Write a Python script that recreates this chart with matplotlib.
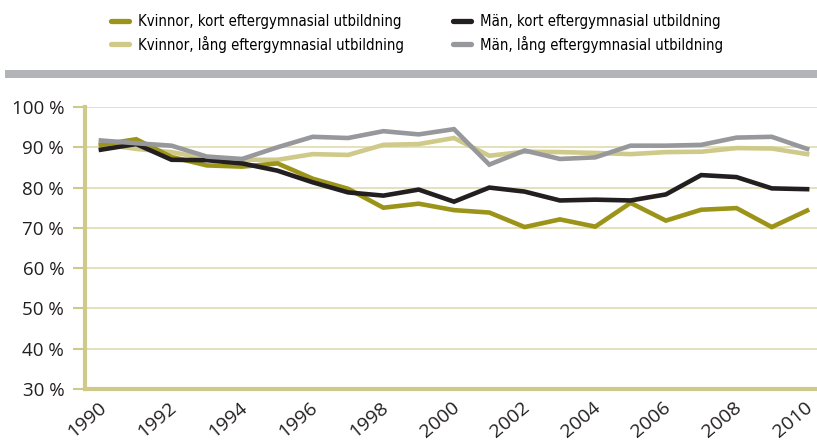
import matplotlib
matplotlib.use("Agg")
import matplotlib.pyplot as plt
import matplotlib.transforms as mtransforms
from matplotlib.patches import Rectangle
from matplotlib.lines import Line2D

years = list(range(1990, 2011))

# andel i procent
kvinnor_kort = [90.6, 92.0, 87.6, 85.5, 85.2, 86.0, 82.2, 79.7, 75.0, 76.0, 74.4,
                73.8, 70.2, 72.1, 70.3, 76.2, 71.8, 74.5, 74.9, 70.2, 74.3]
man_kort = [89.4, 90.8, 86.9, 86.8, 86.0, 84.2, 81.3, 78.8, 78.0, 79.5, 76.5,
            80.0, 79.0, 76.8, 77.0, 76.8, 78.3, 83.1, 82.6, 79.8, 79.6]
kvinnor_lang = [90.8, 89.6, 88.8, 87.2, 86.9, 86.9, 88.3, 88.1, 90.6, 90.8, 92.3,
                87.9, 88.9, 88.8, 88.6, 88.3, 88.8, 88.9, 89.8, 89.7, 88.3]
man_lang = [91.7, 91.0, 90.4, 87.7, 87.1, 90.0, 92.6, 92.3, 94.0, 93.2, 94.5,
            85.7, 89.2, 87.1, 87.5, 90.4, 90.4, 90.6, 92.4, 92.6, 89.6]

labels = ["Kvinnor, kort eftergymnasial utbildning",
          "Män, kort eftergymnasial utbildning",
          "Kvinnor, lång eftergymnasial utbildning",
          "Män, lång eftergymnasial utbildning"]
colors = ["#9b9418", "#231f20", "#cfc98a", "#97989b"]

yticks = [30, 40, 50, 60, 70, 80, 90, 100]
xticks = list(range(1990, 2011, 2))

plt.rcParams['font.family'] = ['Open Sans', 'DejaVu Sans']

fig = plt.figure(figsize=(8.17, 4.42), dpi=100)
ax = fig.add_axes([85/817, 53/442, 1 - 85/817, (389-107)/442])

ax.plot(years, kvinnor_lang, color=colors[2], lw=3.3, solid_joinstyle='miter', zorder=3)
ax.plot(years, kvinnor_kort, color=colors[0], lw=3.3, solid_joinstyle='miter', zorder=4)
ax.plot(years, man_kort, color=colors[1], lw=3.3, solid_joinstyle='miter', zorder=5)
ax.plot(years, man_lang, color=colors[3], lw=3.3, solid_joinstyle='miter', zorder=6)

ax.set_xlim(1989.55, 2010.28)
ax.set_ylim(30, 100)
ax.set_yticks(yticks)
ax.set_yticklabels([f"{v} %" for v in yticks], fontsize=13.5, color="#231f20")
ax.set_xticks(xticks)
ax.set_xticklabels([str(y) for y in xticks], rotation=40, ha='right',
                   rotation_mode='anchor', fontsize=14, color="#231f20")
ax.tick_params(axis='x', length=0, pad=7)
ax.tick_params(axis='y', length=9, width=1.5, color="#cfc98a", pad=6)
shift = mtransforms.ScaledTranslation(-3/100, 0, fig.dpi_scale_trans)
for lab in ax.get_xticklabels():
    lab.set_transform(lab.get_transform() + shift)

ax.grid(axis='y', color="#e2deb5", lw=1.3)
ax.set_axisbelow(True)
for s in ['top', 'right']:
    ax.spines[s].set_visible(False)
for s in ['left', 'bottom']:
    ax.spines[s].set_color("#cfc98a")
    ax.spines[s].set_linewidth(3)
    ax.spines[s].set_zorder(2.5)

# grå avdelare under legenden
fig.add_artist(Rectangle((5/817, 1 - 78/442), 1, 7.5/442, transform=fig.transFigure,
                         color="#b3b4b7", lw=0))

# kolumnvis ordning så att raderna blir kvinnor/män
order = [0, 2, 1, 3]
handles = [Line2D([], [], color=colors[i], lw=3.8, solid_capstyle='round') for i in order]
fig.legend(handles, [labels[i] for i in order], ncol=2, loc='upper left',
           bbox_to_anchor=(98/817, 1 - 1/442), frameon=False,
           handlelength=1.2, handletextpad=0.6, columnspacing=3.3,
           labelspacing=0.42, prop={'family': ['DejaVu Sans'], 'stretch': 'condensed',
                                    'size': 10.7})

fig.savefig("out.png", dpi=100)
